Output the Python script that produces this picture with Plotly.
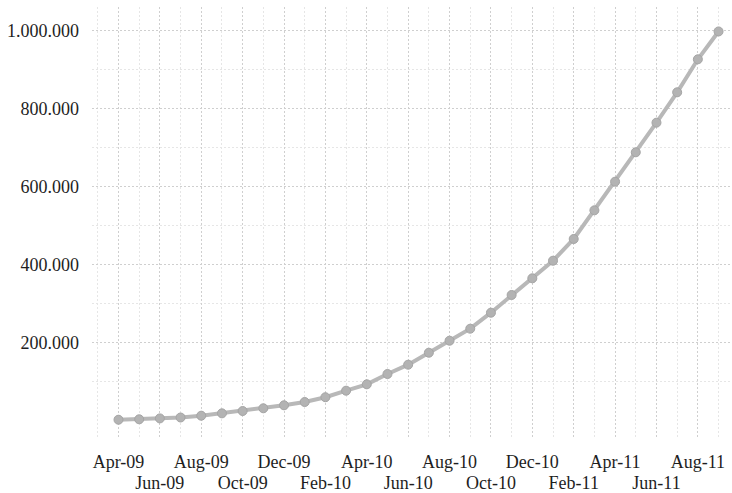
import plotly.graph_objects as go

months = ["Apr-09", "May-09", "Jun-09", "Jul-09", "Aug-09", "Sep-09", "Oct-09", "Nov-09",
          "Dec-09", "Jan-10", "Feb-10", "Mar-10", "Apr-10", "May-10", "Jun-10", "Jul-10",
          "Aug-10", "Sep-10", "Oct-10", "Nov-10", "Dec-10", "Jan-11", "Feb-11", "Mar-11",
          "Apr-11", "May-11", "Jun-11", "Jul-11", "Aug-11", "Sep-11"]
values = [1500, 2600, 4900, 7200, 11800, 17900, 23800, 30800, 38500, 46900,
          59200, 75900, 92300, 118700, 142600, 173300, 204100, 234900, 275900, 321300,
          364100, 409200, 464900, 538400, 611800, 687200, 763100, 841000, 925600, 997000]

y_tickvals = [200000, 400000, 600000, 800000, 1000000]
y_ticktext = ["200.000", "400.000", "600.000", "800.000", "1.000.000"]

x_idx = list(range(len(months)))
row1_vals = x_idx[::4]
row1_text = months[::4]
row2_vals = x_idx[2::4]
row2_text = months[2::4]
XRANGE = [-1.28, 29.65]

fig = go.Figure()
fig.add_trace(go.Scatter(
    x=x_idx, y=values, mode="lines+markers",
    line=dict(color="#b8b8b8", width=4),
    marker=dict(size=9, color="#b3b3b3", line=dict(color="#a5a5a5", width=1)),
    text=months, hoverinfo="text+y",
))
# invisible helper trace so the second label row axis is drawn
fig.add_trace(go.Scatter(x=[x_idx[0]], y=[values[0]], xaxis="x2", mode="markers",
                         marker=dict(opacity=0), hoverinfo="skip"))

font = dict(family="Liberation Serif, Times New Roman, serif", size=18, color="#1e1e1e")

fig.update_layout(
    width=732, height=493,
    margin=dict(l=92, r=0, t=7, b=56),
    paper_bgcolor="white", plot_bgcolor="white",
    showlegend=False,
    font=font,
    xaxis=dict(
        range=XRANGE, automargin=False, tickangle=0,
        tickmode="array", tickvals=row1_vals, ticktext=row1_text,
        showgrid=True, gridcolor="#cfcfcf", gridwidth=1, griddash="2px,2px",
        minor=dict(tickmode="linear", tick0=1, dtick=1, showgrid=True,
                   gridcolor="#e6e6e6", gridwidth=1, griddash="2px,2px"),
        zeroline=False, showline=False, ticks="", ticklabelstandoff=12,
        tickfont=font,
    ),
    xaxis2=dict(
        range=XRANGE, automargin=False, tickangle=0, overlaying="x", side="bottom",
        anchor="y",
        tickmode="array", tickvals=row2_vals, ticktext=row2_text,
        showgrid=True, gridcolor="#cfcfcf", gridwidth=1, griddash="2px,2px",
        zeroline=False, showline=False, ticks="", ticklabelstandoff=33,
        tickfont=font,
    ),
)
fig.update_yaxes(
    range=[-42800, 1059700], automargin=False,
    tickmode="array", tickvals=y_tickvals, ticktext=y_ticktext,
    showgrid=True, gridcolor="#cfcfcf", gridwidth=1, griddash="2px,2px",
    minor=dict(tickmode="linear", tick0=100000, dtick=200000, showgrid=True,
               gridcolor="#e6e6e6", gridwidth=1, griddash="2px,2px"),
    zeroline=False, showline=False, ticks="", ticklabelstandoff=12,
    tickfont=font,
)

fig.write_html("out.html", config={"displayModeBar": False},
               post_script="document.body.style.margin='0';")
